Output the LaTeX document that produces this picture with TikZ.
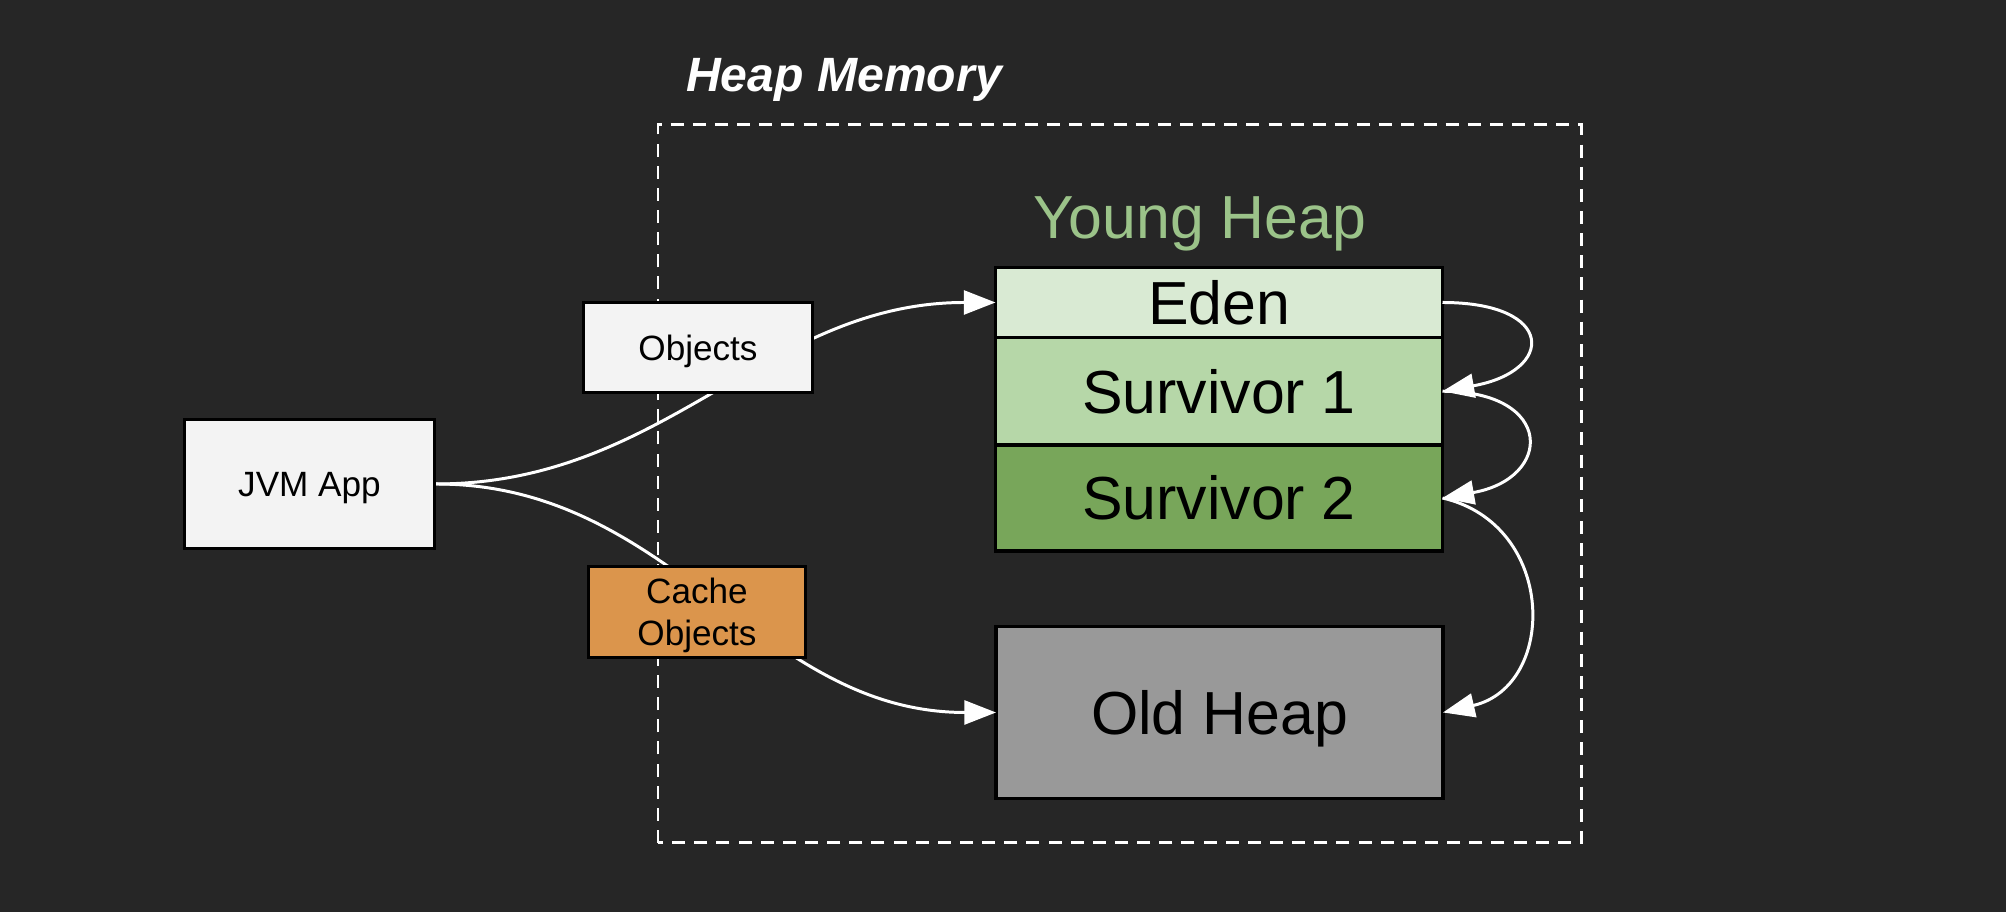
\documentclass[tikz,border=0pt]{standalone}
\usepackage{fontspec}
\setmainfont{Liberation Sans}
\usetikzlibrary{positioning,arrows.meta}
\definecolor{bgdark}{HTML}{262626}
\definecolor{boxfill}{HTML}{F3F3F3}
\definecolor{edenfill}{HTML}{D9EAD3}
\definecolor{surfillA}{HTML}{B6D7A8}
\definecolor{surfillB}{HTML}{78A65A}
\definecolor{oldfill}{HTML}{999999}
\definecolor{cachefill}{HTML}{DB954C}
\definecolor{younggreen}{HTML}{9BC389}
\begin{document}
\begin{tikzpicture}[x=0.1mm,y=0.1mm,
    box/.style={draw=black,line width=0.9pt,inner sep=0pt,align=center},
    capc/.style={text height=7.2pt,text depth=0pt},
    small/.style={font=\fontsize{10}{12}\selectfont},
    big/.style={font=\fontsize{17.3}{20}\selectfont,text height=12.5pt,text depth=0pt},
    gen/.style={box,big,minimum width=44.7mm,outer sep=0pt},
    flow/.style={draw=white,line width=0.85pt,-{Triangle[length=9pt,width=6.8pt]}}]
    \fill[bgdark] (0,0) rectangle (2006,912);
    % heap boundary
    \draw[white,line width=0.85pt,dash pattern=on 3.7pt off 2.6pt] (658,69) rectangle (1581,787);
    \node[text=white,font=\fontsize{13.7}{16}\selectfont\bfseries\itshape,text height=9.9pt,text depth=0pt] (heap) at (844,838) {Heap Memory};
    \node[text=younggreen,big] (young) at (1200,695) {Young Heap};
    % young generation, stacked
    \node[gen,fill=edenfill,minimum height=7mm] (eden) at (1219,609.5) {Eden};
    \node[gen,fill=surfillA,minimum height=10.75mm,below=0pt of eden] (surA) {Survivor 1};
    \node[gen,fill=surfillB,minimum height=10.6mm,below=0pt of surA] (surB) {Survivor 2};
    \node[gen,fill=oldfill,minimum height=17.2mm] (old) at (1219.5,199.5) {Old Heap};
    \node[box,capc,small,fill=boxfill,minimum width=25mm,minimum height=12.9mm] (jvm) at (309.5,428) {JVM App};
    % allocations (labels sit on top of the lines)
    \draw[flow] (jvm.east) to[out=0,in=180] (eden.west);
    \draw[flow] (jvm.east) to[out=0,in=180] (old.west);
    \node[box,capc,small,fill=boxfill,minimum width=22.9mm,minimum height=9mm] (obj) at (698,564.5) {Objects};
    \node[box,small,text depth=0pt,fill=cachefill,minimum width=21.7mm,minimum height=9.1mm] (cache) at (697,300) {Cache\\Objects};
    % promotion
    \draw[flow] (eden.east) to[out=0,in=10,looseness=3.3] (surA.east);
    \draw[flow] (surA.east) to[out=0,in=10,looseness=2.7] (surB.east);
    \draw[flow] (surB.east) to[out=-13,in=13,looseness=1.4] (old.east);
\end{tikzpicture}
\end{document}
